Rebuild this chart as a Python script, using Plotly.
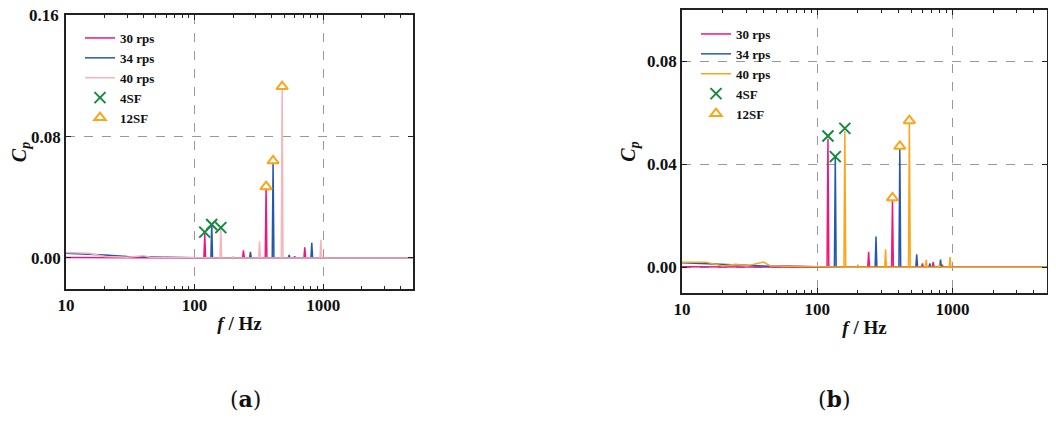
import plotly.graph_objects as go

# panel (a)
a_base_f = [10, 15, 20, 30, 40, 45, 60, 100]
a_base = {
    '30 rps': [0.0002, 0.0002, 0.0001, 0.0001, 0.0, 0.0, 0.0, 0.0],
    '34 rps': [0.003, 0.0025, 0.002, 0.001, 0.0008, 0.0005, 0.0003, 0.0],
    '40 rps': [0.0035, 0.003, 0.001, 0.0005, 0.0015, 0.0005, 0.0002, 0.0],
}
a_peak_f = {
    '30 rps': [120, 240, 360, 600, 720],
    '34 rps': [136, 272, 408, 544, 816],
    '40 rps': [160, 200, 320, 480, 960],
}
a_peak_v = {
    '30 rps': [0.016, 0.005, 0.046, 0.001, 0.007],
    '34 rps': [0.022, 0.004, 0.063, 0.002, 0.010],
    '40 rps': [0.020, 0.001, 0.011, 0.112, 0.012],
}
a_4sf_f = [120, 136, 160]
a_4sf_v = [0.017, 0.022, 0.020]
a_12sf_f = [360, 408, 480]
a_12sf_v = [0.047, 0.064, 0.113]

# panel (b)
b_base_f = [10, 15, 20, 25, 30, 40, 45, 60, 100]
b_base = {
    '30 rps': [0.0002, 0.0002, 0.0001, 0.0001, 0.0, 0.0, 0.0, 0.0, 0.0],
    '34 rps': [0.0018, 0.0015, 0.0012, 0.001, 0.0008, 0.0005, 0.0004, 0.0005, 0.0002],
    '40 rps': [0.002, 0.002, 0.0005, 0.0012, 0.0005, 0.002, 0.0005, 0.0003, 0.0002],
}
b_peak_f = {
    '30 rps': [120, 240, 360, 600, 720, 840],
    '34 rps': [136, 272, 408, 544, 680, 816],
    '40 rps': [160, 200, 320, 480, 640, 800, 960],
}
b_peak_v = {
    '30 rps': [0.050, 0.006, 0.026, 0.0015, 0.002, 0.001],
    '34 rps': [0.043, 0.012, 0.046, 0.005, 0.0015, 0.003],
    '40 rps': [0.053, 0.001, 0.007, 0.056, 0.003, 0.001, 0.004],
}
b_4sf_f = [120, 136, 160]
b_4sf_v = [0.051, 0.043, 0.054]
b_12sf_f = [360, 408, 480]
b_12sf_v = [0.027, 0.047, 0.057]

colors_a = {'30 rps': '#f0157f', '34 rps': '#2458b0', '40 rps': '#f8b4b8'}
colors_b = {'30 rps': '#f0157f', '34 rps': '#2458b0', '40 rps': '#fba51a'}
FONT = 'Liberation Serif'
W, H, OFF = 1056, 424, 8  # page body margin shifts the figure by 8px


def px_x(x):
    return (x - OFF) / W


def px_y(y):
    return 1 - (y - OFF) / H


def spectrum(base_f, base_v, peak_f, peak_v):
    xs, ys = list(base_f), list(base_v)
    for f, v in zip(peak_f, peak_v):
        xs += [f * 0.985, f, f * 1.015]
        ys += [0.0, v, 0.0]
    xs.append(5000)
    ys.append(0.0)
    return xs, ys


fig = go.Figure()


def add_panel(sfx, leg, base_f, base, pf, pv, sf4f, sf4v, sf12f, sf12v, cols):
    for name in ['30 rps', '34 rps', '40 rps']:
        x, y = spectrum(base_f, base[name], pf[name], pv[name])
        fig.add_trace(go.Scatter(x=x, y=y, mode='lines', name=name, legend=leg,
                                 line=dict(color=cols[name], width=1.5),
                                 xaxis='x' + sfx, yaxis='y' + sfx))
    fig.add_trace(go.Scatter(x=sf4f, y=sf4v, mode='markers', name='4SF', legend=leg,
                             marker=dict(symbol='x-thin-open', size=11, color='#138a3c',
                                         line=dict(width=2, color='#138a3c')),
                             xaxis='x' + sfx, yaxis='y' + sfx))
    fig.add_trace(go.Scatter(x=sf12f, y=sf12v, mode='markers', name='12SF', legend=leg,
                             marker=dict(symbol='triangle-up-open', size=10, color='#fba51a',
                                         line=dict(width=2, color='#fba51a')),
                             xaxis='x' + sfx, yaxis='y' + sfx))


add_panel('', 'legend', a_base_f, a_base, a_peak_f, a_peak_v,
          a_4sf_f, a_4sf_v, a_12sf_f, a_12sf_v, colors_a)
add_panel('2', 'legend2', b_base_f, b_base, b_peak_f, b_peak_v,
          b_4sf_f, b_4sf_v, b_12sf_f, b_12sf_v, colors_b)

xax = dict(type='log', range=[1, 3.699], showline=True, linecolor='#222', linewidth=1.5,
           mirror='ticks', ticks='inside', ticklen=5, tickcolor='#222', automargin=False,
           tickvals=[10, 100, 1000], ticktext=['10', '100', '1000'],
           minor=dict(ticks='inside', ticklen=3, tickcolor='#222',
                      tickvals=[20, 30, 40, 50, 60, 70, 80, 90, 200, 300, 400, 500, 600, 700, 800, 900,
                                2000, 3000, 4000]),
           showgrid=True, gridcolor='#999', griddash='dash', gridwidth=1.2,
           zeroline=False, tickfont=dict(family=FONT, size=17, color='#111', weight='bold'),
           title=dict(text='<b><i>f</i> / Hz</b>', font=dict(family=FONT, size=19, color='#111'),
                      standoff=3))
yax = dict(showline=True, linecolor='#222', linewidth=1.5, mirror='ticks', ticks='inside',
           ticklen=5, tickcolor='#222', showgrid=True, gridcolor='#999', griddash='dash',
           gridwidth=1.2, zeroline=False, automargin=False,
           tickfont=dict(family=FONT, size=17, color='#111', weight='bold'),
           tickformat='.2f',
           title=dict(text='<b><i>C<sub>p</sub></i></b>', font=dict(family=FONT, size=20, color='#111'),
                      standoff=6))

leg = dict(bgcolor='rgba(0,0,0,0)', font=dict(family=FONT, size=13, color='#111', weight='bold'),
           tracegroupgap=0, itemwidth=30, yanchor='top', xanchor='left')

fig.update_layout(
    width=W, height=H, margin=dict(l=0, r=0, t=0, b=0, autoexpand=False),
    plot_bgcolor='white', paper_bgcolor='white',
    xaxis=dict(xax, domain=[px_x(66), px_x(413)], anchor='y'),
    yaxis=dict(yax, domain=[px_y(289), px_y(15)], range=[-0.0205, 0.1602],
               tickvals=[0, 0.08, 0.16], ticktext=['0.00', '0.08', ''], anchor='x'),
    xaxis2=dict(xax, domain=[px_x(682), px_x(1047)], anchor='y2'),
    yaxis2=dict(yax, domain=[px_y(293), px_y(10)], range=[-0.01, 0.1],
                tickvals=[0, 0.04, 0.08], anchor='x2'),
    legend=dict(leg, x=px_x(80), y=px_y(23)),
    legend2=dict(leg, x=px_x(696), y=px_y(19)),
    annotations=[
        dict(text='<b>0.16</b>', x=px_x(61), y=0.16, xref='paper', yref='y', xanchor='right',
             yanchor='middle', showarrow=False, font=dict(family=FONT, size=17, color='#111')),
        dict(text='(<b>a</b>)', x=px_x(228), y=px_y(414), xref='paper', yref='paper', showarrow=False,
             font=dict(family='DejaVu Serif', size=22, color='#111')),
        dict(text='(<b>b</b>)', x=px_x(853), y=px_y(414), xref='paper', yref='paper', showarrow=False,
             font=dict(family='DejaVu Serif', size=22, color='#111')),
    ],
)

fig.write_html("out.html")
